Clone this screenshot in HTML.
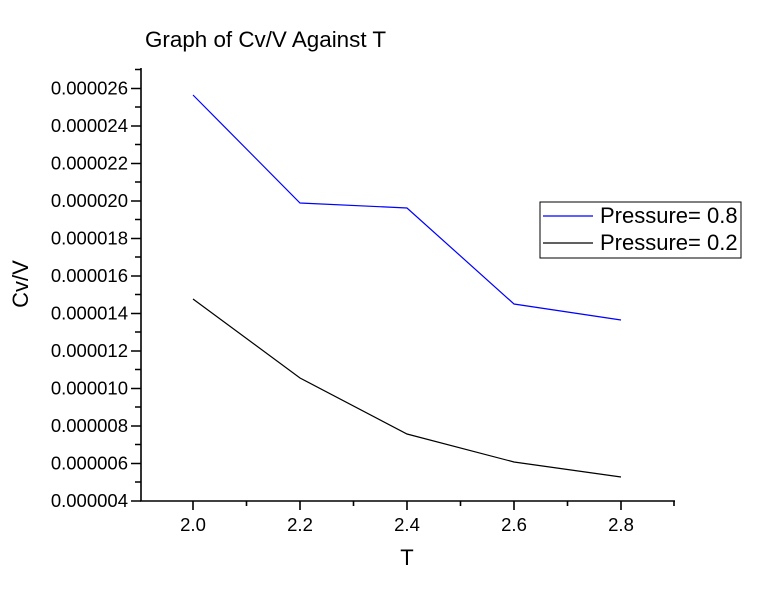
<!DOCTYPE html>
<html><head><style>body{margin:0;background:#fff}</style></head><body>
<svg width="784" height="600" xmlns="http://www.w3.org/2000/svg" font-family="Liberation Sans, sans-serif">
<rect width="784" height="600" fill="#fff"/>
<text x="145" y="47" font-size="22.4">Graph of Cv/V Against T</text>
<g stroke="#000" stroke-width="1.6" fill="none">
<line x1="141" y1="68" x2="141" y2="501"/>
<line x1="140" y1="501" x2="675" y2="501"/>
<path d="M131 501H141M131 463.5H141M131 426H141M131 388.5H141M131 351H141M131 313.5H141M131 276H141M131 238.5H141M131 201H141M131 163.5H141M131 126H141M131 88.5H141"/>
<path d="M135 482H141M135 444.5H141M135 407H141M135 369.5H141M135 332H141M135 294.5H141M135 257H141M135 219.5H141M135 182H141M135 144.5H141M135 107H141M135 69.5H141"/>
<path d="M193 501V510M300 501V510M407 501V510M514 501V510M621 501V510"/>
<path d="M246.5 501V506M353.5 501V506M460.5 501V506M567.5 501V506M674 501V506"/>
</g>
<g font-size="18.5" text-anchor="end">
<text x="128" y="507">0.000004</text>
<text x="128" y="469.5">0.000006</text>
<text x="128" y="432">0.000008</text>
<text x="128" y="394.5">0.000010</text>
<text x="128" y="357">0.000012</text>
<text x="128" y="319.5">0.000014</text>
<text x="128" y="282">0.000016</text>
<text x="128" y="244.5">0.000018</text>
<text x="128" y="207">0.000020</text>
<text x="128" y="169.5">0.000022</text>
<text x="128" y="132">0.000024</text>
<text x="128" y="94.5">0.000026</text>
</g>
<g font-size="18.5" text-anchor="middle">
<text x="193" y="531">2.0</text>
<text x="300" y="531">2.2</text>
<text x="407" y="531">2.4</text>
<text x="514" y="531">2.6</text>
<text x="621" y="531">2.8</text>
</g>
<text x="407" y="565" font-size="22" text-anchor="middle">T</text>
<text transform="translate(28,284) rotate(-90)" font-size="22" text-anchor="middle">Cv/V</text>
<polyline fill="none" stroke="#0000ff" stroke-width="1.2" points="193,95 300,203 407,208 514,304 621,320"/>
<polyline fill="none" stroke="#000" stroke-width="1.2" points="193,299 300,378 407,434 514,462 621,477"/>
<rect x="540" y="202" width="201" height="56" fill="#fff" stroke="#000" stroke-width="1"/>
<line x1="543" y1="216" x2="593" y2="216" stroke="#0000ff" stroke-width="1.2"/>
<line x1="543" y1="243" x2="593" y2="243" stroke="#000" stroke-width="1.2"/>
<text x="600" y="223" font-size="22">Pressure= 0.8</text>
<text x="600" y="250" font-size="22">Pressure= 0.2</text>
</svg>
</body></html>
